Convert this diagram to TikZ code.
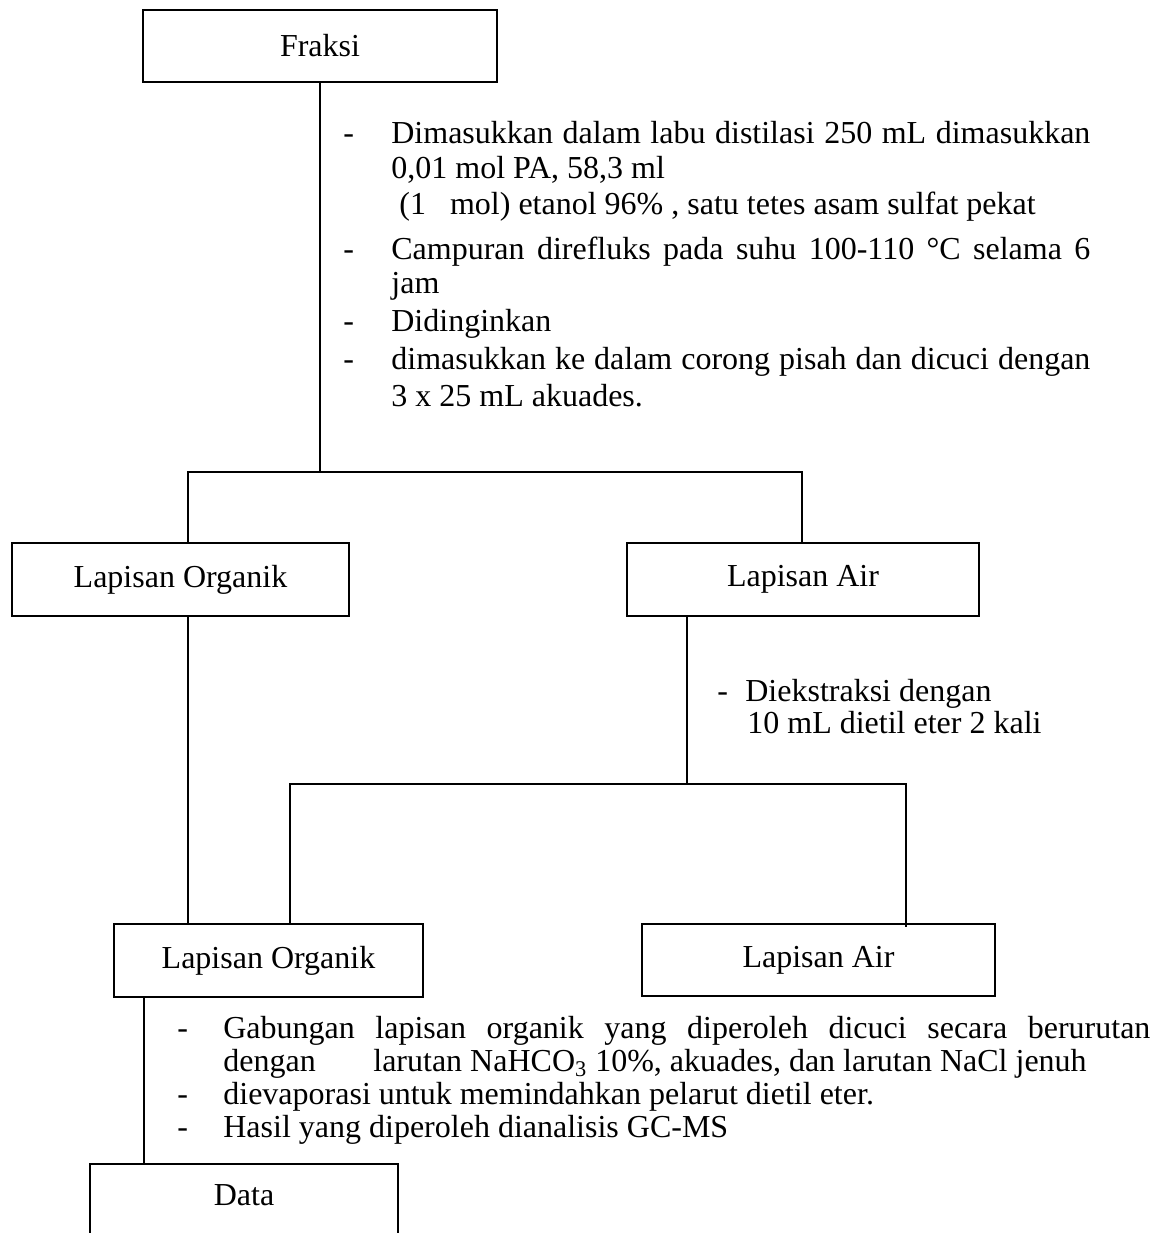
\documentclass[tikz,border=0pt]{standalone}
\usepackage{fontspec}
\setmainfont{Liberation Serif}

\newcommand{\tandastrip}[1][24pt]{\makebox[#1][l]{-}}
\newcommand{\rata}[2]{\makebox[#1][s]{#2}}

\tikzset{
    bingkai/.style={line width=1.3pt},
    kotak/.style={draw, bingkai, inner sep=0pt, font=\fontsize{16}{19}\selectfont},
    teks/.style={anchor=base west, inner sep=0pt, font=\fontsize{16}{19}\selectfont},
    garis/.style={line width=1pt}
}

\begin{document}
\begin{tikzpicture}[x=0.5pt, y=-0.5pt]
    \clip (0,0) rectangle (1157,1233);
    \fill[white] (0,0) rectangle (1157,1233);

    \node[kotak, minimum width=177pt, minimum height=36pt] (fraksi) at (320,46) {Fraksi};
    \node[kotak, minimum width=168.5pt, minimum height=36.5pt] (organik1) at (180.5,579.5) {Lapisan Organik};
    \node[kotak, minimum width=176pt, minimum height=36.5pt] (air1) at (803,579.5) {Lapisan Air};
    \node[kotak, minimum width=154.5pt, minimum height=36.5pt] (organik2) at (268.5,960.5) {Lapisan Organik};
    \node[kotak, minimum width=176.5pt, minimum height=36pt] (air2) at (818.5,960) {Lapisan Air};
    \node[teks, anchor=center] (data) at (244,1195) {Data};

    \node[teks] (a1) at (343,143) {\tandastrip\rata{349.5pt}{Dimasukkan dalam labu distilasi 250 mL dimasukkan}};
    \node[teks] (a2) at (391,178) {0,01 mol PA, 58,3 ml};
    \node[teks] (a3) at (399,214) {(1\hspace{12pt}mol) etanol 96\% , satu tetes asam sulfat pekat};
    \node[teks] (a4) at (343,259) {\tandastrip\rata{349.5pt}{Campuran direfluks pada suhu 100-110 °C selama 6}};
    \node[teks] (a5) at (391,293) {jam};
    \node[teks] (a6) at (343,331) {\tandastrip Didinginkan};
    \node[teks] (a7) at (343,369) {\tandastrip\rata{349.5pt}{dimasukkan ke dalam corong pisah dan dicuci dengan}};
    \node[teks] (a8) at (391,406) {3 x 25 mL akuades.};

    \node[teks] (b1) at (717,701) {\tandastrip[14pt]Diekstraksi dengan};
    \node[teks] (b2) at (747,733) {10 mL dietil eter 2 kali};

    \node[teks] (c1) at (177,1038) {\tandastrip[23pt]\rata{463.5pt}{Gabungan lapisan organik yang diperoleh dicuci secara berurutan}};
    \node[teks] (c2) at (223,1071) {\makebox[75pt][l]{dengan}larutan NaHCO\textsubscript{3} 10\%, akuades, dan larutan NaCl jenuh};
    \node[teks] (c3) at (177,1104) {\tandastrip[23pt]dievaporasi untuk memindahkan pelarut dietil eter.};
    \node[teks] (c4) at (177,1137) {\tandastrip[23pt]Hasil yang diperoleh dianalisis GC-MS};

    \coordinate (kiri1) at (188,472);
    \coordinate (kanan1) at (802,472);
    \coordinate (cabang2) at (687,784);
    \coordinate (kiri2) at (290,784);
    \coordinate (kanan2) at (906,784);
    \coordinate (turun) at (144,1164);

    \draw[garis] (fraksi.south) -- (fraksi.south |- kiri1);
    \draw[garis] (kiri1 |- organik1.north) -- (kiri1) -- (kanan1) -- (kanan1 |- air1.north);
    \draw[garis] (kiri1 |- organik1.south) -- (kiri1 |- organik2.north);
    \draw[garis] (cabang2 |- air1.south) -- (cabang2);
    \draw[garis] (kiri2 |- organik2.north) -- (kiri2) -- (kanan2) -- ([yshift=-2pt]kanan2 |- air2.north);
    \draw[garis] (turun |- organik2.south) -- (turun);
    \draw[bingkai] (90,1240) |- (398,1164) -- (398,1240);
\end{tikzpicture}
\end{document}
